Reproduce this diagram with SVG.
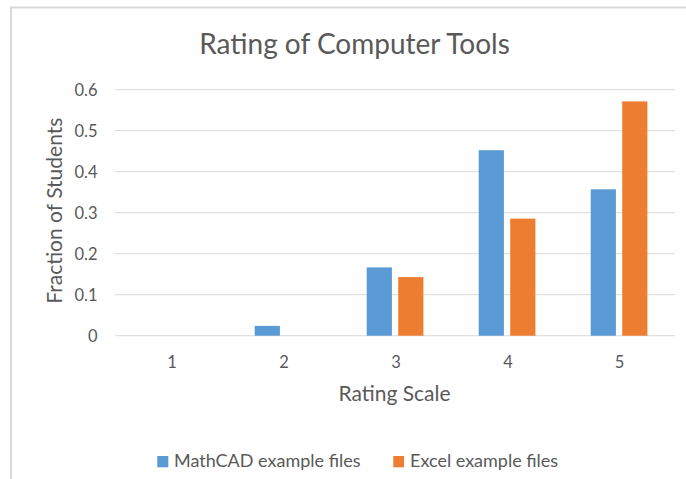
<svg xmlns="http://www.w3.org/2000/svg" width="686" height="479" viewBox="0 0 686 479">
<style>
text{font-family:Lato,"Open Sans","Liberation Sans",sans-serif;fill:#595959}
.tick{font-size:16.5px}
.ytick{text-anchor:end}
.xtick{text-anchor:middle}
.grid{stroke:#D9D9D9;stroke-width:1}
.blue{fill:#5B9BD5}
.orange{fill:#ED7D31}
.frame{stroke:#D9D9D9;stroke-width:2;fill:none}
</style>
<rect x="0" y="0" width="686" height="479" fill="#FFFFFF"/>
<path class="frame" d="M11,479 V7.5 H686"/>
<g id="title"><text x="354.5" y="54.3" font-size="28" text-anchor="middle">Rating of Computer Tools</text></g>
<g id="gridlines">
<line class="grid" x1="115" y1="89.7" x2="675" y2="89.7"/>
<line class="grid" x1="115" y1="130.7" x2="675" y2="130.7"/>
<line class="grid" x1="115" y1="171.7" x2="675" y2="171.7"/>
<line class="grid" x1="115" y1="212.7" x2="675" y2="212.7"/>
<line class="grid" x1="115" y1="253.7" x2="675" y2="253.7"/>
<line class="grid" x1="115" y1="294.7" x2="675" y2="294.7"/>
<line class="grid" x1="115" y1="335.7" x2="675" y2="335.7"/>
</g>
<g id="y-axis">
<text class="tick ytick" x="97.5" y="95.7">0.6</text>
<text class="tick ytick" x="97.5" y="136.7">0.5</text>
<text class="tick ytick" x="97.5" y="177.7">0.4</text>
<text class="tick ytick" x="97.5" y="218.7">0.3</text>
<text class="tick ytick" x="97.5" y="259.7">0.2</text>
<text class="tick ytick" x="97.5" y="300.7">0.1</text>
<text class="tick ytick" x="97.5" y="341.7">0</text>
<text x="0" y="0" font-size="21" text-anchor="middle" transform="translate(61.7,210.7) rotate(-90)">Fraction of Students</text>
</g>
<g id="x-axis">
<text class="tick xtick" x="172" y="367.7">1</text>
<text class="tick xtick" x="284" y="367.7">2</text>
<text class="tick xtick" x="396" y="367.7">3</text>
<text class="tick xtick" x="508" y="367.7">4</text>
<text class="tick xtick" x="619.5" y="367.7">5</text>
<text x="394.5" y="400.7" font-size="21" text-anchor="middle">Rating Scale</text>
</g>
<g id="bars-mathcad">
<rect class="blue" x="254.7" y="325.9" width="25.2" height="9.8"/>
<rect class="blue" x="366.7" y="267.4" width="25.2" height="68.3"/>
<rect class="blue" x="478.7" y="150.2" width="25.2" height="185.5"/>
<rect class="blue" x="590.7" y="189.3" width="25.2" height="146.4"/>
</g>
<g id="bars-excel">
<rect class="orange" x="398.2" y="277.1" width="25.2" height="58.6"/>
<rect class="orange" x="510.2" y="218.6" width="25.2" height="117.1"/>
<rect class="orange" x="622.2" y="101.4" width="25.2" height="234.3"/>
</g>
<g id="legend">
<rect class="blue" x="157.3" y="456" width="11" height="11.3"/>
<text x="174" y="467.3" font-size="18">MathCAD example files</text>
<rect class="orange" x="393.3" y="456" width="10.7" height="11.3"/>
<text x="410" y="467.3" font-size="18">Excel example files</text>
</g>
</svg>
